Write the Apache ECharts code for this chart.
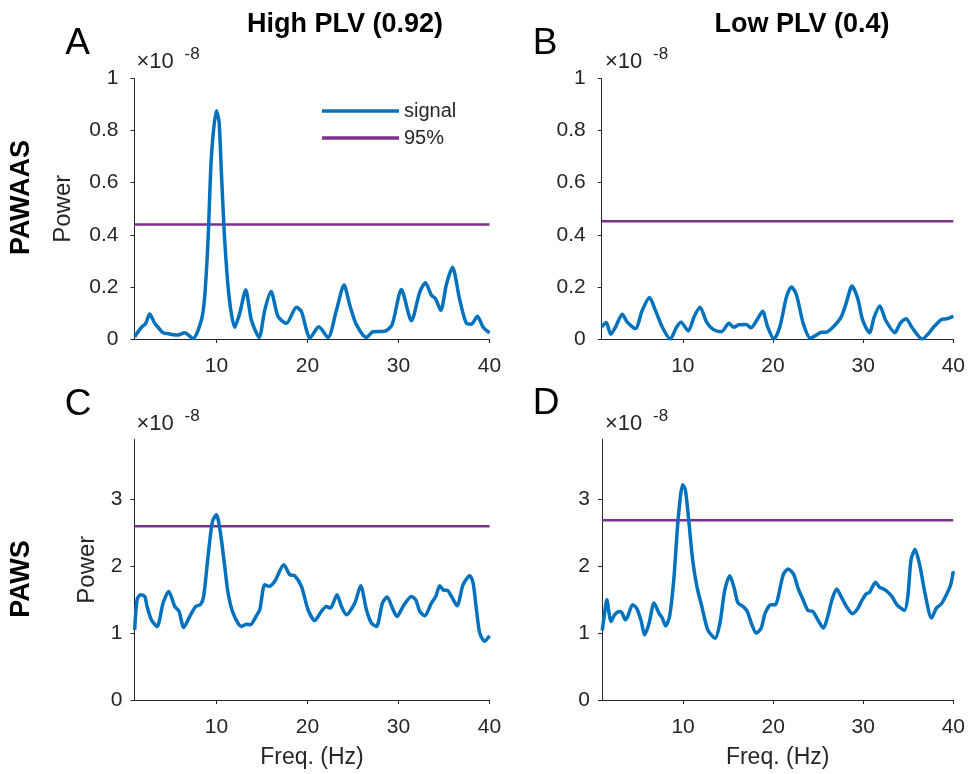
<!DOCTYPE html>
<html>
<head>
<meta charset="utf-8">
<script src="https://cdn.jsdelivr.net/npm/echarts@6/dist/echarts.min.js"></script>
<style>
  html, body { margin: 0; padding: 0; background: #fff; }
  #chart { width: 968px; height: 774px; }
</style>
</head>
<body>
<div id="chart"></div>
<script>
// ====== data (power in units of 1e-8) ======
const freqA = [1.02, 1.75, 2.23, 2.67, 3.22, 3.59, 4.14, 4.87, 5.78, 6.52, 7.43, 8.35, 8.71, 9.08, 9.45, 10.0, 10.29, 10.55, 10.91, 11.39, 12.01, 12.56, 13.22, 13.84, 14.69, 15.31, 16.0, 16.77, 17.69, 18.79, 19.34, 19.89, 20.25, 21.24, 22.26, 23.18, 24.02, 24.65, 25.38, 26.48, 27.2, 28.5, 29.3, 30.32, 31.42, 32.34, 32.96, 33.62, 34.06, 34.65, 35.27, 35.93, 36.73, 37.47, 38.0, 38.67, 39.3, 40.0];
const powA = [0.009, 0.045, 0.06, 0.096, 0.06, 0.045, 0.024, 0.019, 0.015, 0.024, 0.002, 0.073, 0.162, 0.38, 0.70, 0.876, 0.834, 0.636, 0.38, 0.162, 0.045, 0.099, 0.188, 0.073, 0.006, 0.111, 0.182, 0.086, 0.06, 0.122, 0.105, 0.035, 0.003, 0.047, 0.006, 0.11, 0.207, 0.13, 0.055, 0.006, 0.028, 0.03, 0.055, 0.19, 0.07, 0.18, 0.216, 0.168, 0.155, 0.11, 0.21, 0.275, 0.15, 0.06, 0.057, 0.087, 0.045, 0.024];

const freqB = [1.0, 1.5, 2.0, 2.55, 3.28, 3.83, 4.74, 5.5, 6.3, 6.96, 7.7, 8.6, 9.3, 9.8, 10.6, 11.27, 11.9, 12.64, 13.36, 14.28, 15.1, 15.66, 16.2, 17.0, 17.57, 18.3, 18.85, 19.4, 20.1, 20.76, 21.5, 22.05, 22.6, 23.35, 24.15, 24.8, 25.36, 25.9, 26.64, 27.55, 28.1, 28.76, 29.4, 29.95, 30.7, 31.23, 31.85, 32.5, 33.52, 34.1, 34.77, 35.4, 36.55, 37.2, 37.8, 38.7, 39.35, 40.0];
const powB = [0.047, 0.063, 0.018, 0.047, 0.095, 0.065, 0.04, 0.11, 0.159, 0.11, 0.047, 0.0, 0.045, 0.064, 0.031, 0.087, 0.122, 0.065, 0.037, 0.028, 0.06, 0.045, 0.055, 0.056, 0.043, 0.078, 0.107, 0.047, 0.0, 0.047, 0.162, 0.2, 0.17, 0.06, 0.003, 0.015, 0.026, 0.026, 0.045, 0.084, 0.136, 0.203, 0.155, 0.072, 0.024, 0.085, 0.127, 0.072, 0.024, 0.06, 0.078, 0.045, 0.0, 0.019, 0.045, 0.075, 0.078, 0.088];

const freqC = [1.02, 1.28, 1.65, 2.12, 2.38, 2.85, 3.48, 4.14, 4.76, 5.42, 5.89, 6.41, 7.07, 7.73, 8.24, 8.6, 9.08, 9.56, 10.0, 10.44, 10.91, 11.28, 11.83, 12.74, 13.3, 13.73, 14.39, 14.76, 15.31, 15.78, 16.41, 17.4, 18.05, 18.6, 19.34, 20.07, 20.8, 21.53, 22.08, 22.52, 23.25, 23.73, 24.28, 25.2, 25.85, 26.48, 27.03, 27.58, 28.24, 28.75, 29.41, 29.85, 30.5, 31.42, 31.9, 32.34, 32.89, 33.62, 34.1, 34.54, 34.98, 35.34, 35.82, 36.44, 37.1, 37.83, 38.2, 38.57, 38.93, 39.48, 40.0];
const powC = [1.05, 1.5, 1.575, 1.55, 1.4, 1.2, 1.1, 1.45, 1.625, 1.4, 1.325, 1.085, 1.25, 1.4, 1.425, 1.55, 2.15, 2.67, 2.77, 2.5, 2.0, 1.6, 1.3, 1.1, 1.135, 1.125, 1.26, 1.35, 1.725, 1.7, 1.775, 2.025, 1.875, 1.86, 1.7, 1.35, 1.19, 1.325, 1.4, 1.375, 1.575, 1.4, 1.275, 1.45, 1.71, 1.35, 1.15, 1.1, 1.45, 1.54, 1.35, 1.25, 1.4, 1.55, 1.5, 1.325, 1.26, 1.45, 1.55, 1.71, 1.64, 1.64, 1.55, 1.41, 1.725, 1.86, 1.75, 1.35, 1.0, 0.88, 0.96];

const freqD = [1.03, 1.29, 1.54, 1.84, 2.02, 2.39, 2.93, 3.23, 3.59, 3.85, 4.4, 4.84, 5.31, 5.75, 6.23, 6.78, 7.32, 7.69, 8.06, 8.5, 8.97, 9.45, 9.96, 10.25, 10.62, 11.06, 11.53, 12.08, 12.74, 13.55, 14.09, 14.64, 15.19, 15.67, 16.1, 16.65, 17.13, 17.57, 18.12, 18.67, 19.11, 19.77, 20.25, 20.57, 21.12, 21.67, 22.29, 22.76, 23.24, 23.86, 24.41, 24.96, 25.58, 26.06, 26.53, 27.05, 27.63, 28.25, 28.8, 29.35, 29.9, 30.34, 30.7, 31.36, 31.8, 32.39, 33.12, 33.74, 34.58, 34.95, 35.31, 35.75, 36.3, 36.85, 37.58, 38.13, 38.68, 39.23, 39.7, 40.0];
const powD = [1.04, 1.3, 1.5, 1.25, 1.175, 1.275, 1.325, 1.3, 1.2, 1.25, 1.425, 1.375, 1.2, 0.975, 1.15, 1.45, 1.3, 1.225, 1.11, 1.25, 1.8, 2.7, 3.22, 3.15, 2.7, 2.1, 1.7, 1.4, 1.05, 0.925, 1.15, 1.65, 1.86, 1.675, 1.45, 1.4, 1.325, 1.15, 1.0, 1.075, 1.3, 1.425, 1.425, 1.55, 1.875, 1.96, 1.875, 1.675, 1.525, 1.34, 1.325, 1.2, 1.075, 1.25, 1.5, 1.66, 1.525, 1.375, 1.29, 1.36, 1.5, 1.59, 1.61, 1.76, 1.69, 1.65, 1.56, 1.425, 1.34, 1.55, 2.1, 2.25, 2.0, 1.6, 1.225, 1.375, 1.44, 1.575, 1.72, 1.925];

// 95% threshold per panel
const thresholds = [0.44, 0.452, 2.6, 2.69];

const colTitles = ["High PLV (0.92)", "Low PLV (0.4)"];
const rowTitles = ["PAWAAS", "PAWS"];
const panelLetters = ["A", "B", "C", "D"];
const xTicks = [10, 20, 30, 40];
const yTicksTop = [0, 0.2, 0.4, 0.6, 0.8, 1];
const yTicksBottom = [0, 1, 2, 3];

const FONT = "'Liberation Sans', Arial, Helvetica, sans-serif";
const AX = "#262626";
const BLUE = "#0072BD";
const PURPLE = "#7E2F8E";

const panels = [
  { f: freqA, p: powA, grid: { left: 134.5, top: 78.5, width: 355, height: 260.5 }, ymax: 1, yt: yTicksTop, power: true },
  { f: freqB, p: powB, grid: { left: 601.7, top: 78.5, width: 355.6, height: 260.5 }, ymax: 1, yt: yTicksTop, power: false },
  { f: freqC, p: powC, grid: { left: 134.5, top: 439.3, width: 355, height: 260.7 }, ymax: 3.9, yt: yTicksBottom, power: true },
  { f: freqD, p: powD, grid: { left: 602, top: 439.3, width: 355.3, height: 260.7 }, ymax: 3.9, yt: yTicksBottom, power: false },
];

const chart = echarts.init(document.getElementById("chart"), null, { renderer: "canvas" });

const grids = [], xAxes = [], yAxes = [], series = [];
panels.forEach((pn, i) => {
  const bottomRow = i >= 2;
  grids.push(pn.grid);
  xAxes.push({
    type: "value", gridIndex: i, min: 1, max: 40,
    name: bottomRow ? "Freq. (Hz)" : "",
    nameLocation: "middle", nameGap: 46,
    nameTextStyle: { fontFamily: FONT, fontSize: 23, color: AX },
    axisLine: { show: true, lineStyle: { color: AX, width: 1 } },
    axisTick: { show: true, customValues: xTicks, length: 4, lineStyle: { color: AX } },
    axisLabel: { customValues: xTicks, margin: 17, fontFamily: FONT, fontSize: 21, color: AX },
    splitLine: { show: false },
  });
  yAxes.push({
    type: "value", gridIndex: i, min: 0, max: pn.ymax,
    name: pn.power ? "Power" : "",
    nameLocation: "middle", nameGap: bottomRow ? 35 : 59,
    nameTextStyle: { fontFamily: FONT, fontSize: 24, color: AX },
    axisLine: { show: true, lineStyle: { color: AX, width: 1 } },
    axisTick: { show: true, customValues: pn.yt, length: 4, lineStyle: { color: AX } },
    axisLabel: { customValues: pn.yt, margin: bottomRow ? 12 : 16, fontFamily: FONT, fontSize: 21, color: AX },
    splitLine: { show: false },
  });
  series.push({
    name: "signal", type: "line", xAxisIndex: i, yAxisIndex: i,
    data: pn.f.map((x, k) => [x, pn.p[k]]),
    symbol: "none", smooth: 0.25,
    lineStyle: { color: BLUE, width: 3.5 },
    itemStyle: { color: BLUE },
    z: 3,
  });
  series.push({
    name: "95%", type: "line", xAxisIndex: i, yAxisIndex: i,
    data: [[1, thresholds[i]], [40, thresholds[i]]],
    symbol: "none",
    lineStyle: { color: PURPLE, width: 2.5 },
    itemStyle: { color: PURPLE },
    z: 2,
  });
});

// free text: titles, letters, row labels, exponent markers
const graphics = [];
const txt = (x, y, text, style, extra) =>
  graphics.push(Object.assign({ type: "text", x, y, style: Object.assign({ text, fontFamily: FONT, fill: "#000" }, style) }, extra || {}));

txt(345, 25, colTitles[0], { fontSize: 27, fontWeight: "bold", align: "center", verticalAlign: "middle" });
txt(802, 25, colTitles[1], { fontSize: 27, fontWeight: "bold", align: "center", verticalAlign: "middle" });
txt(22, 197.5, rowTitles[0], { fontSize: 27, fontWeight: "bold", align: "center", verticalAlign: "middle" }, { rotation: Math.PI / 2 });
txt(22, 579, rowTitles[1], { fontSize: 27, fontWeight: "bold", align: "center", verticalAlign: "middle" }, { rotation: Math.PI / 2 });

const letterPos = [[77.5, 44], [545, 44], [78, 405], [546, 404]];
panelLetters.forEach((l, i) => txt(letterPos[i][0], letterPos[i][1], l, { fontSize: 37, align: "center", verticalAlign: "middle" }));

const expPos = [[136.5, 73], [605, 73], [136.5, 434.5], [605, 434.5]];
expPos.forEach(([x, y]) => {
  txt(x, y, "\u00d710", { fontSize: 22, fill: AX, align: "left", verticalAlign: "bottom" });
  txt(x + 48, y - 10, "-8", { fontSize: 17, fill: AX, align: "left", verticalAlign: "bottom" });
});

chart.setOption({
  animation: false,
  backgroundColor: "#fff",
  grid: grids,
  xAxis: xAxes,
  yAxis: yAxes,
  legend: {
    data: [
      { name: "signal", icon: "rect", itemStyle: { color: BLUE } },
      { name: "95%", icon: "rect", itemStyle: { color: PURPLE } },
    ],
    orient: "vertical",
    left: 322, top: 100,
    padding: 0,
    itemWidth: 77, itemHeight: 3.5, itemGap: 5,
    textStyle: { fontFamily: FONT, fontSize: 20, color: AX, lineHeight: 22 },
  },
  graphic: graphics,
  series,
});
</script>
</body>
</html>
